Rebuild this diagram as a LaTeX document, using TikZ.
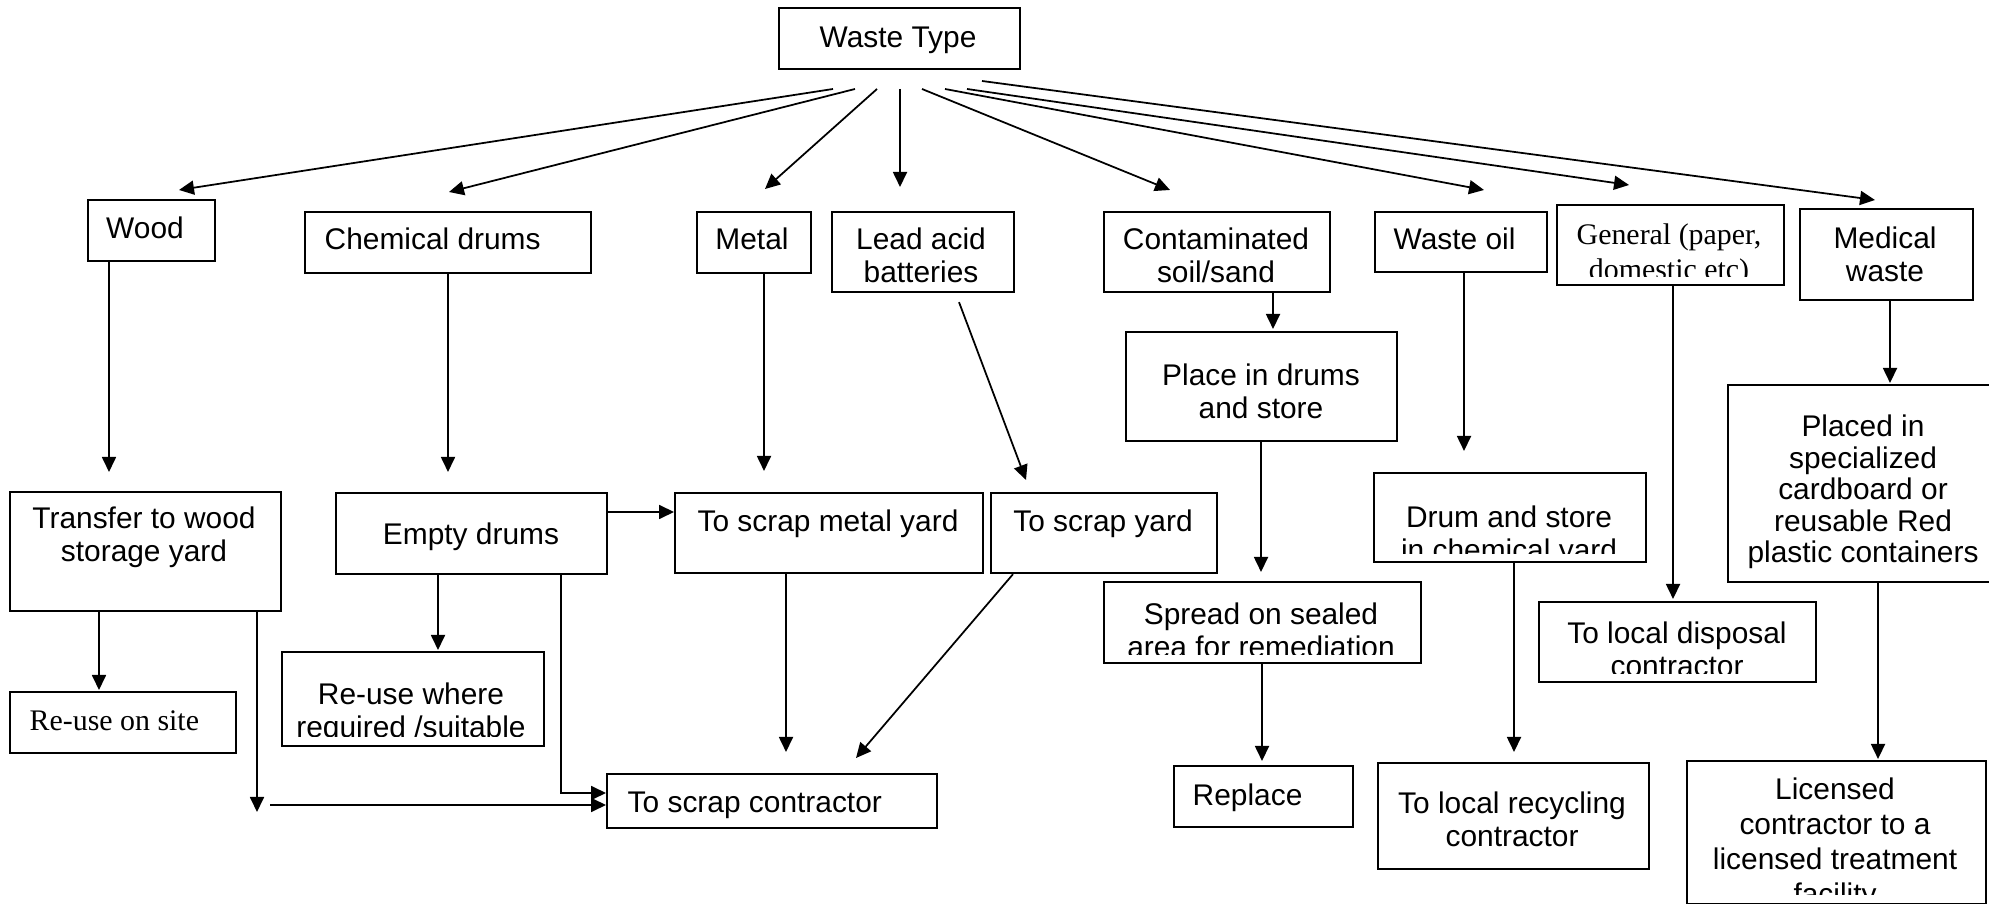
\documentclass[tikz,border=0pt]{standalone}
\usepackage{fontspec}
\setmainfont{Liberation Sans}
\newfontfamily\timesfont{Liberation Serif}
\usetikzlibrary{arrows.meta, calc}

\tikzset{
  box/.style={draw, line width=0.6pt, inner sep=0pt, anchor=north west},
  txt/.style={inner sep=0pt, align=center, font=\fontsize{8.5}{9.4}\selectfont},
  tms/.style={txt, font=\timesfont\fontsize{8.5}{9.4}\selectfont},
  arr/.style={-{Triangle[length=0.15cm, width=0.14cm]}, line width=0.5pt}
}

\begin{document}
\begin{tikzpicture}[x=0.01cm, y=-0.01cm]
\useasboundingbox (0,0) rectangle (1989,904);

% Boxes
\node[box, minimum width=2.41cm, minimum height=0.61cm] (wt) at (778,7) {};
\node[box, minimum width=1.27cm, minimum height=0.61cm] (wood) at (87,199) {};
\node[box, minimum width=2.86cm, minimum height=0.61cm] (chem) at (304,211) {};
\node[box, minimum width=1.14cm, minimum height=0.61cm] (metal) at (696,211) {};
\node[box, minimum width=1.82cm, minimum height=0.80cm] (lead) at (831,211) {};
\node[box, minimum width=2.26cm, minimum height=0.80cm] (contam) at (1103,211) {};
\node[box, minimum width=1.72cm, minimum height=0.60cm] (oil) at (1374,211) {};
\node[box, minimum width=2.27cm, minimum height=0.80cm] (gen) at (1556,204) {};
\node[box, minimum width=1.73cm, minimum height=0.91cm] (med) at (1799,208) {};

\node[box, minimum width=2.71cm, minimum height=1.19cm] (tr) at (9,491) {};
\node[box, minimum width=2.71cm, minimum height=0.81cm] (empty) at (335,492) {};
\node[box, minimum width=3.08cm, minimum height=0.80cm] (smy) at (674,492) {};
\node[box, minimum width=2.26cm, minimum height=0.80cm] (sy) at (990,492) {};
\node[box, minimum width=2.71cm, minimum height=1.09cm] (place) at (1125,331) {};
\node[box, minimum width=2.72cm, minimum height=0.89cm] (drum) at (1373,472) {};
\node[box, minimum width=2.72cm, minimum height=1.97cm] (placed) at (1727,384) {};

\node[box, minimum width=3.17cm, minimum height=0.81cm] (spread) at (1103,581) {};
\node[box, minimum width=2.77cm, minimum height=0.80cm] (disp) at (1538,601) {};
\node[box, minimum width=2.26cm, minimum height=0.61cm] (site) at (9,691) {};
\node[box, minimum width=2.62cm, minimum height=0.94cm] (where) at (281,651) {};
\node[box, minimum width=3.30cm, minimum height=0.54cm] (sc) at (606,773) {};
\node[box, minimum width=1.79cm, minimum height=0.61cm] (repl) at (1173,765) {};
\node[box, minimum width=2.71cm, minimum height=1.06cm] (recyc) at (1377,762) {};
\node[box, minimum width=2.99cm, minimum height=1.43cm] (lic) at (1686,760) {};

% Texts
\node[txt, anchor=base] (wtT) at (898,48) {Waste Type};
\node[txt, anchor=base] (woodT) at (145,239) {Wood};
\node[txt, anchor=base west] (chemT) at (324,250) {Chemical drums};
\node[txt, anchor=base] (metalT) at (752,250) {Metal};
\node[txt, anchor=north] (leadT) at (921,227) {Lead acid\\batteries};
\node[txt, anchor=base west] (oilT) at (1393,250) {Waste oil};
\node[txt, anchor=north] (medT) at (1885,226) {Medical\\waste};
\node[txt, anchor=north] (trT) at (144,506) {Transfer to wood\\storage yard};
\node[txt, anchor=base] (emptyT) at (471,545) {Empty drums};
\node[txt, anchor=base] (smyT) at (828,532) {To scrap metal yard};
\node[txt, anchor=base] (syT) at (1103,532) {To scrap yard};
\node[txt, anchor=north] (placeT) at (1261,363) {Place in drums\\and store};
\node[txt, anchor=north, font=\fontsize{8.5}{9}\selectfont] (placedT) at (1863,414)
  {Placed in\\specialized\\cardboard or\\reusable Red\\plastic containers};
\node[tms, anchor=base west] (siteT) at (29,730) {Re-use on site};
\node[txt, anchor=base west] (scT) at (627,812) {To scrap contractor};
\node[txt, anchor=base west] (replT) at (1192,805) {Replace};
\node[txt, anchor=north] (recycT) at (1512,791) {To local recycling\\contractor};

% Texts cut off at the box bottom
\begin{scope}
  \clip (contam.north west) rectangle ([yshift=0.1cm]contam.south east);
  \node[txt, anchor=north] (contamT) at (1216,227) {Contaminated\\soil/sand};
\end{scope}
\begin{scope}
  \clip (gen.north west) rectangle ([yshift=0.1cm]gen.south east);
  \node[tms, anchor=north, font=\timesfont\fontsize{8.5}{10}\selectfont] (genT) at (1669,223)
    {General (paper,\\domestic etc)};
\end{scope}
\begin{scope}
  \clip (drum.north west) rectangle ([yshift=0.1cm]drum.south east);
  \node[txt, anchor=north] (drumT) at (1509,505) {Drum and store\\in chemical yard};
\end{scope}
\begin{scope}
  \clip (spread.north west) rectangle ([yshift=0.1cm]spread.south east);
  \node[txt, anchor=north] (spreadT) at (1261,602) {Spread on sealed\\area for remediation};
\end{scope}
\begin{scope}
  \clip (disp.north west) rectangle ([yshift=0.1cm]disp.south east);
  \node[txt, anchor=north] (dispT) at (1677,621) {To local disposal\\contractor};
\end{scope}
\begin{scope}
  \clip (where.north west) rectangle ([yshift=0.11cm]where.south east);
  \node[txt, anchor=north] (whereT) at (411,682) {Re-use where\\required /suitable};
\end{scope}
\begin{scope}
  \clip (lic.north west) rectangle ([yshift=0.11cm]lic.south east);
  \node[txt, anchor=north, font=\fontsize{8.5}{10}\selectfont] (licT) at (1835,777)
    {Licensed\\contractor to a\\licensed treatment\\facility};
\end{scope}

% Fan out of the waste type
\coordinate (s1) at (833,89);  \coordinate (t1) at (179,190);
\coordinate (s2) at (855,89);  \coordinate (t2) at (449,192);
\coordinate (s3) at (877,89);  \coordinate (t3) at (765,189);
\coordinate (s4) at (900,89);  \coordinate (t4) at (900,187);
\coordinate (s5) at (922,89);  \coordinate (t5) at (1170,190);
\coordinate (s6) at (945,89);  \coordinate (t6) at (1484,190);
\coordinate (s7) at (967,89);  \coordinate (t7) at (1629,185);
\coordinate (s8) at (982,81);  \coordinate (t8) at (1875,200);
\draw[arr] (s1) -- (t1);
\draw[arr] (s2) -- (t2);
\draw[arr] (s3) -- (t3);
\draw[arr] (s4) -- (t4);
\draw[arr] (s5) -- (t5);
\draw[arr] (s6) -- (t6);
\draw[arr] (s7) -- (t7);
\draw[arr] (s8) -- (t8);

% Down the columns
\draw[arr, shorten >=0.19cm] ($(wood.south west)+(22,0)$) -- ($(tr.north west)+(100,0)$);
\draw[arr, shorten >=0.20cm] ($(chem.south west)+(144,0)$) -- ($(empty.north west)+(113,0)$);
\draw[arr, shorten >=0.21cm] ($(metal.south west)+(68,0)$) -- ($(smy.north west)+(90,0)$);
\draw[arr] ($(lead.south west)+(128,9)$) -- ($(sy.north west)+(36,-12)$);
\draw[arr, shorten >=0.02cm] ($(contam.south west)+(170,0)$) -- ($(place.north west)+(148,0)$);
\draw[arr, shorten >=0.09cm] ($(place.south west)+(136,0)$) -- ($(spread.north west)+(158,0)$);
\draw[arr, shorten >=0.04cm] ($(spread.south west)+(159,0)$) -- ($(repl.north west)+(89,0)$);
\draw[arr, shorten >=0.21cm] ($(oil.south west)+(90,0)$) -- ($(drum.north west)+(91,0)$);
\draw[arr, shorten >=0.02cm] ($(gen.south west)+(117,0)$) -- ($(disp.north west)+(135,0)$);
\draw[arr, shorten >=0.01cm] ($(med.south west)+(91,0)$) -- ($(placed.north west)+(163,0)$);
\draw[arr, shorten >=0.01cm] ($(placed.south west)+(151,0)$) -- ($(lic.north west)+(192,0)$);
\draw[arr, shorten >=0.10cm] ($(drum.south west)+(141,0)$) -- ($(recyc.north west)+(137,0)$);

% Wood and drums to the scrap contractor
\coordinate (trEnd) at (257,812);
\coordinate (feed) at (270,805);
\draw[arr, shorten >=0.01cm] ($(tr.south west)+(90,0)$) -- ($(site.north west)+(90,0)$);
\draw[arr] ($(tr.south west)+(248,0)$) -- (trEnd);
\draw[arr] (feed) -- (feed -| sc.west);
\draw[arr, shorten >=0.01cm] ($(empty.south west)+(103,0)$) -- ($(where.north west)+(157,0)$);
\draw[arr] ($(empty.south west)+(226,0)$) |- ($(sc.north west)+(0,20)$);
\draw[arr] ($(empty.north east)+(0,20)$) -- ($(smy.north west)+(0,20)$);
\draw[arr, shorten >=0.21cm] ($(smy.south west)+(112,0)$) -- ($(sc.north west)+(180,0)$);
\draw[arr] ($(sy.south west)+(23,0)$) -- ($(sc.north west)+(250,-15)$);
\end{tikzpicture}
\end{document}
